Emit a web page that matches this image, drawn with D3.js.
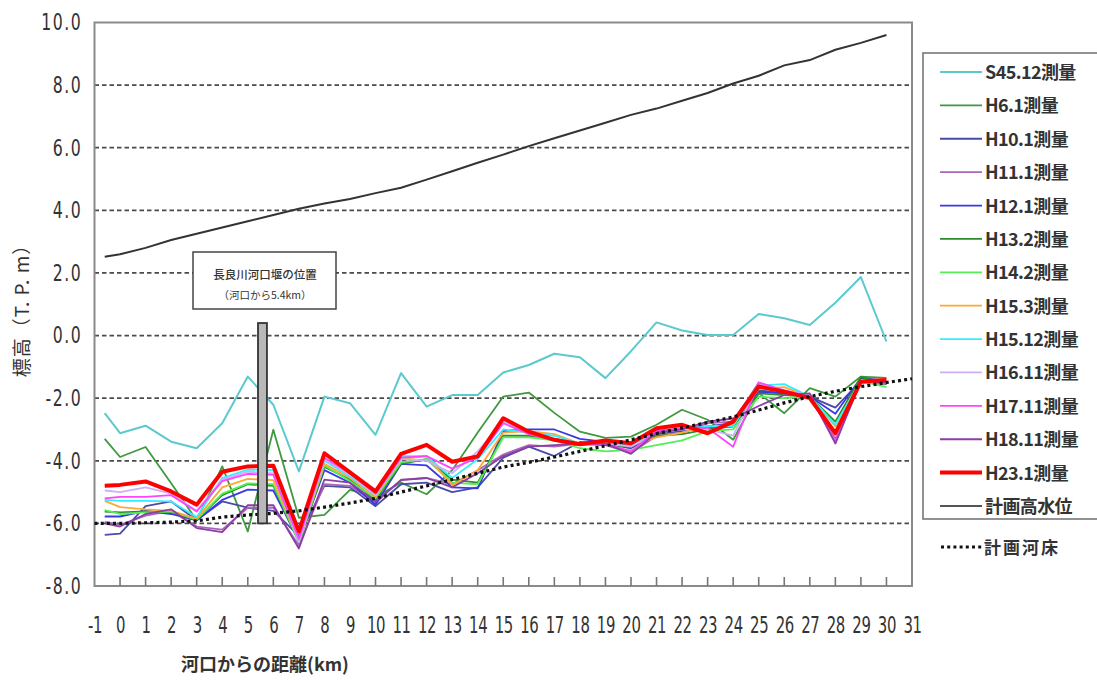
<!DOCTYPE html>
<html>
<head>
<meta charset="utf-8">
<script src="https://cdn.jsdelivr.net/npm/d3@7/dist/d3.min.js"></script>
<style>
  html, body { margin: 0; padding: 0; background: #fff; }
  svg { display: block; }
  .tick-y, .tick-x { font-family: "DejaVu Sans Condensed", "DejaVu Sans", sans-serif; fill: #333; }
  .jp { font-family: "Noto Sans CJK JP", sans-serif; fill: #333; }
</style>
</head>
<body>
<svg id="chart" width="1097" height="680"></svg>
<script>
// Distance from the river mouth (km) for each surveyed cross-section
const km = [-0.6, 0, 1, 2, 3, 4, 5, 6, 7, 8, 9, 10, 11, 12, 13, 14, 15,
            16, 17, 18, 19, 20, 21, 22, 23, 24, 25, 26, 27, 28, 29, 30];

// Average riverbed elevation (T.P. m) per survey
const s45_12 = [-2.48,-3.12,-2.88,-3.39,-3.6,-2.8,-1.31,-2.21,-4.34,-1.95,-2.16,-3.17,-1.2,-2.27,-1.9,-1.9,-1.18,-0.94,-0.58,-0.69,-1.36,-0.5,0.42,0.16,0.02,0.02,0.69,0.55,0.34,1.05,1.87,-0.19];
const h6_1   = [-3.3,-3.88,-3.56,-4.72,-5.9,-4.18,-6.26,-3.01,-5.82,-5.73,-4.93,-5.15,-4.7,-5.07,-4.3,-3.1,-1.95,-1.82,-2.47,-3.07,-3.27,-3.23,-2.85,-2.37,-2.69,-3.33,-1.84,-2.48,-1.68,-1.95,-1.31,-1.35];
const h10_1  = [-6.37,-6.33,-5.45,-5.3,-5.9,-5.3,-5.5,-5.6,-6.4,-4.8,-4.85,-5.45,-4.75,-4.7,-5.0,-4.85,-3.9,-3.55,-3.85,-3.4,-3.45,-3.6,-3.15,-3.05,-2.95,-2.9,-1.75,-1.85,-1.95,-2.3,-1.45,-1.5];
const h11_1  = [-5.95,-6.05,-5.75,-5.6,-6.1,-6.2,-5.5,-5.5,-6.7,-4.75,-4.8,-5.35,-4.6,-4.55,-4.75,-4.3,-3.8,-3.5,-3.55,-3.45,-3.5,-3.75,-3.2,-3.1,-2.8,-2.75,-1.5,-1.8,-1.95,-3.3,-1.5,-1.55];
const h12_1  = [-5.78,-5.78,-5.6,-5.7,-5.9,-5.25,-4.92,-4.95,-6.55,-4.3,-4.7,-5.4,-4.1,-4.15,-4.85,-4.88,-3.05,-3.0,-3.0,-3.3,-3.4,-3.55,-3.05,-3.0,-2.9,-2.8,-1.8,-1.85,-1.95,-2.5,-1.35,-1.45];
const h13_2  = [-5.62,-5.65,-5.62,-5.65,-5.88,-5.1,-4.75,-4.8,-6.6,-4.2,-4.6,-5.25,-4.1,-3.95,-4.6,-4.7,-3.2,-3.2,-3.3,-3.45,-3.5,-3.55,-3.2,-3.15,-3.0,-2.9,-1.85,-1.9,-1.95,-2.75,-1.32,-1.55];
const h14_2  = [-5.58,-5.7,-5.65,-5.62,-5.88,-5.05,-4.72,-4.75,-6.6,-4.15,-4.65,-5.2,-4.05,-3.95,-4.7,-4.75,-3.25,-3.25,-3.35,-3.6,-3.7,-3.65,-3.5,-3.35,-3.05,-3.0,-1.95,-2.0,-1.95,-2.85,-1.45,-1.65];
const h15_3  = [-5.28,-5.48,-5.55,-5.6,-5.85,-4.85,-4.58,-4.62,-6.55,-4.1,-4.55,-5.15,-3.95,-3.85,-4.78,-4.3,-3.1,-3.05,-3.15,-3.45,-3.45,-3.5,-3.25,-3.1,-2.9,-2.85,-1.7,-1.65,-1.95,-2.9,-1.45,-1.45];
const h15_12 = [-5.25,-5.28,-5.28,-5.3,-5.8,-4.55,-4.28,-4.3,-6.5,-4.0,-4.5,-5.1,-3.85,-3.85,-4.55,-3.95,-3.0,-3.1,-3.2,-3.45,-3.4,-3.5,-3.05,-3.0,-2.9,-2.9,-1.6,-1.55,-1.95,-2.85,-1.45,-1.5];
const h16_11 = [-4.95,-5.0,-4.85,-5.05,-5.6,-4.6,-4.35,-4.4,-6.6,-3.95,-4.45,-5.1,-3.95,-4.0,-4.4,-3.7,-2.75,-3.1,-3.3,-3.5,-3.45,-3.55,-3.1,-3.0,-3.0,-3.2,-1.55,-1.75,-1.9,-3.2,-1.45,-1.5];
const h17_11 = [-5.2,-5.15,-5.15,-5.1,-5.62,-4.65,-4.42,-4.45,-6.5,-3.9,-4.4,-5.05,-3.9,-3.85,-4.25,-3.9,-2.8,-3.15,-3.35,-3.5,-3.45,-3.7,-3.05,-2.95,-2.95,-3.55,-1.5,-1.75,-1.95,-3.4,-1.45,-1.5];
const h18_11 = [-6.0,-6.1,-5.7,-5.55,-6.15,-6.28,-5.42,-5.42,-6.8,-4.6,-4.7,-5.3,-4.62,-4.55,-4.85,-4.4,-3.85,-3.55,-3.5,-3.45,-3.45,-3.78,-3.1,-3.0,-2.75,-2.65,-2.25,-1.9,-1.85,-3.45,-1.45,-1.5];
const h23_1  = [-4.8,-4.77,-4.66,-4.98,-5.4,-4.35,-4.18,-4.16,-6.26,-3.76,-4.37,-4.98,-3.78,-3.49,-4.03,-3.86,-2.64,-3.07,-3.33,-3.47,-3.35,-3.44,-2.96,-2.85,-3.12,-2.75,-1.63,-1.79,-2.0,-3.12,-1.47,-1.42];

// Planned high water level (T.P. m)
const planHWL = [2.52,2.6,2.8,3.05,3.25,3.45,3.65,3.85,4.05,4.22,4.36,4.55,4.72,4.98,5.25,5.52,5.78,6.05,6.3,6.55,6.8,7.05,7.25,7.5,7.75,8.05,8.3,8.63,8.8,9.13,9.35,9.6];

// Planned riverbed (T.P. m), defined on whole kilometres -1 .. 31
const bedKm = d3.range(-1, 32);
const planBed = [-6.0,-6.0,-5.98,-5.96,-5.92,-5.8,-5.73,-5.68,-5.6,-5.48,-5.35,-5.2,-5.0,-4.8,-4.6,-4.4,-4.2,-4.05,-3.88,-3.7,-3.52,-3.33,-3.13,-2.95,-2.78,-2.6,-2.38,-2.15,-1.95,-1.78,-1.63,-1.5,-1.38];

const seriesNames  = ["S45.12測量","H6.1測量","H10.1測量","H11.1測量","H12.1測量","H13.2測量","H14.2測量","H15.3測量","H15.12測量","H16.11測量","H17.11測量","H18.11測量","H23.1測量"];
const seriesValues = [s45_12, h6_1, h10_1, h11_1, h12_1, h13_2, h14_2, h15_3, h15_12, h16_11, h17_11, h18_11, h23_1];
const seriesColors = ["#5cc9cf","#3f993f","#4a4aa8","#aa66b8","#3838e8","#2f8a2f","#55ee55","#ffa733","#33eeff","#cdb0f5","#ff44ff","#8a3fa4","#ff0000"];
const seriesWidths = [2, 1.8, 1.8, 1.8, 1.8, 1.8, 1.8, 1.8, 1.8, 1.8, 1.8, 1.8, 4];

const hwlName = "計画高水位";
const bedName = "計画河床";
const yTicks = [10, 8, 6, 4, 2, 0, -2, -4, -6, -8];
const xTicks = d3.range(-1, 32);
const yTitle = "標高（T. P. m）";
const xTitle = "河口からの距離(km)";
const weirKm = [5.4, 5.75];
const weirTop = 0.4;
const weirBottom = -6.0;
const weirLabel = ["長良川河口堰の位置", "（河口から5.4km）"];

const svg = d3.select("#chart");
const x = d3.scaleLinear().domain([-1, 31]).range([94.5, 912]);
const y = d3.scaleLinear().domain([-8, 10]).range([586, 22.5]);
const hyphen = s => s.replace("\u2212", "-");

// Horizontal dashed grid lines
svg.append("g")
  .selectAll("line")
  .data(yTicks.filter(v => v > -8 && v < 10))
  .join("line")
  .attr("x1", x(-1)).attr("x2", x(31))
  .attr("y1", d => y(d)).attr("y2", d => y(d))
  .attr("stroke", "#4a4a4a").attr("stroke-width", 1.7)
  .attr("stroke-dasharray", "4.5,3");

// Plot frame
svg.append("rect")
  .attr("x", x(-1)).attr("y", y(10))
  .attr("width", x(31) - x(-1)).attr("height", y(-8) - y(10))
  .attr("fill", "none").attr("stroke", "#8a8a8a").attr("stroke-width", 2);

// Y axis labels (narrow, tall digits)
const yAxis = d3.axisLeft(y).tickValues(yTicks)
  .tickFormat(d => hyphen(d3.format(".1f")(d))).tickSize(0).tickPadding(16);
const gy = svg.append("g").attr("transform", `translate(${x(-1)},0)`).call(yAxis);
gy.select(".domain").remove();
gy.selectAll("text")
  .attr("class", "tick-y").attr("font-size", 23).attr("letter-spacing", 2)
  .attr("fill", "#3a3a3a").attr("transform", "scale(0.76,1)");

// X axis: labels plus short inward tick marks
const xAxis = d3.axisBottom(x).tickValues(xTicks)
  .tickFormat(d => hyphen(d3.format("d")(d))).tickSize(0).tickPadding(31);
const gx = svg.append("g").attr("transform", `translate(0,${y(-8)})`).call(xAxis);
gx.select(".domain").remove();
gx.selectAll("text")
  .attr("class", "tick-x").attr("font-size", 23).attr("letter-spacing", -0.5)
  .attr("fill", "#3a3a3a").attr("transform", "scale(0.72,1)");
svg.append("g")
  .selectAll("line")
  .data(xTicks.filter(d => d > -1 && d < 31))
  .join("line")
  .attr("x1", d => x(d)).attr("x2", d => x(d))
  .attr("y1", y(-8)).attr("y2", y(-8) - 9)
  .attr("stroke", "#777").attr("stroke-width", 1.6);

// Axis titles
svg.append("text")
  .attr("class", "jp")
  .attr("transform", `translate(29,306) rotate(-90)`)
  .attr("text-anchor", "middle")
  .attr("font-size", 19).attr("letter-spacing", 1)
  .text(yTitle);
svg.append("text")
  .attr("class", "jp")
  .attr("x", 265).attr("y", 671)
  .attr("text-anchor", "middle")
  .attr("font-size", 18).attr("font-weight", 700)
  .text(xTitle);

const plot = svg.append("g");
const line = d3.line().x(d => x(d[0])).y(d => y(d[1]));

// Survey profiles
seriesValues.forEach((vals, i) => {
  plot.append("path")
    .datum(km.map((k, j) => [k, vals[j]]))
    .attr("d", line)
    .attr("fill", "none")
    .attr("stroke", seriesColors[i])
    .attr("stroke-width", seriesWidths[i])
    .attr("stroke-linejoin", "round");
});

// Planned high water level
plot.append("path")
  .datum(km.map((k, j) => [k, planHWL[j]]))
  .attr("d", line)
  .attr("fill", "none").attr("stroke", "#333").attr("stroke-width", 2);

// Planned riverbed (dotted)
plot.append("path")
  .datum(bedKm.map((k, j) => [k, planBed[j]]))
  .attr("d", line)
  .attr("fill", "none").attr("stroke", "#111").attr("stroke-width", 3.2)
  .attr("stroke-dasharray", "3,3.2");

// Weir position marker
svg.append("rect")
  .attr("x", x(weirKm[0])).attr("y", y(weirTop))
  .attr("width", x(weirKm[1]) - x(weirKm[0]))
  .attr("height", y(weirBottom) - y(weirTop))
  .attr("fill", "#b8b8b8").attr("stroke", "#333").attr("stroke-width", 1.8);

// Weir label box
const boxG = svg.append("g");
boxG.append("rect")
  .attr("x", 193).attr("y", 252).attr("width", 143).attr("height", 57)
  .attr("fill", "#fff").attr("stroke", "#444").attr("stroke-width", 1.5);
boxG.append("text").attr("class", "jp")
  .attr("x", 265).attr("y", 279).attr("text-anchor", "middle")
  .attr("font-size", 11.5).attr("font-weight", 500).text(weirLabel[0]);
boxG.append("text").attr("class", "jp")
  .attr("x", 265).attr("y", 299).attr("text-anchor", "middle")
  .attr("font-size", 10.5).text(weirLabel[1]);

// Legend
const legend = svg.append("g");
legend.append("rect")
  .attr("x", 923).attr("y", 53).attr("width", 190).attr("height", 466)
  .attr("fill", "#fff").attr("stroke", "#777").attr("stroke-width", 1.6);
const legendItems = seriesNames.map((n, i) => ({ name: n, color: seriesColors[i], width: seriesWidths[i] }))
  .concat([{ name: hwlName, color: "#555", width: 2 }]);
const rowY = d3.scaleLinear().domain([0, legendItems.length - 1]).range([72, 506]);
legendItems.forEach((it, i) => {
  legend.append("line")
    .attr("x1", 940).attr("x2", 982)
    .attr("y1", rowY(i)).attr("y2", rowY(i))
    .attr("stroke", it.color).attr("stroke-width", it.width);
  legend.append("text").attr("class", "jp")
    .attr("x", 985).attr("y", rowY(i) + 7)
    .attr("font-size", 18).attr("font-weight", 700)
    .attr("letter-spacing", -0.6)
    .text(it.name);
});
legend.append("line")
  .attr("x1", 941).attr("x2", 982).attr("y1", 547).attr("y2", 547)
  .attr("stroke", "#111").attr("stroke-width", 3.2).attr("stroke-dasharray", "3,3.2");
legend.append("text").attr("class", "jp")
  .attr("x", 984).attr("y", 553.5)
  .attr("font-size", 17).attr("font-weight", 700)
  .attr("letter-spacing", 2)
  .text(bedName);
</script>
</body>
</html>
